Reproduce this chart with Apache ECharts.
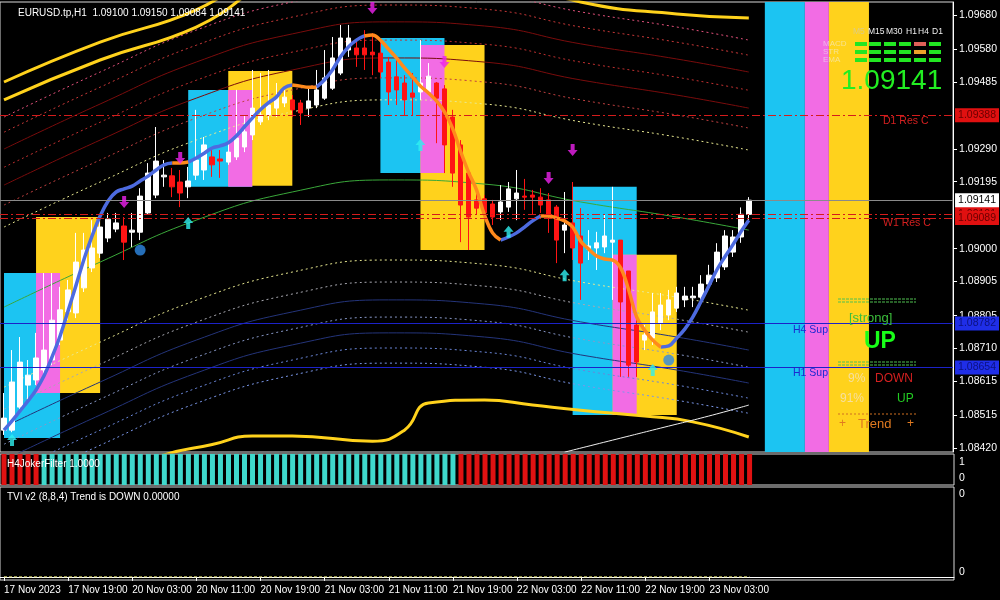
<!DOCTYPE html>
<html><head><meta charset="utf-8">
<script src="https://cdn.jsdelivr.net/npm/echarts@6/dist/echarts.min.js"></script>
<style>html,body{margin:0;padding:0;background:#000;}#c{width:1000px;height:600px;}</style>
</head><body><div id="c"></div>
<script>
// ---------- DATA ----------
const opens = [1.08472,1.08472,1.08539,1.08603,1.08618,1.08647,1.08676,1.08734,1.08816,1.08813,
1.08886,1.08944,1.08987,1.09031,1.09057,1.09066,1.09048,1.09048,1.09104,1.09156,
1.09209,1.09212,1.09194,1.09180,1.09214,1.09229,1.09267,1.09261,1.09252,1.09267,
1.09296,1.09331,1.09369,1.09389,1.09409,1.09424,1.09433,1.09424,1.09409,1.09418,
1.09438,1.09467,1.09511,1.09578,1.09584,1.09584,1.09572,1.09569,1.09543,1.09500,
1.09482,1.09453,1.09456,1.09456,1.09482,1.09465,1.09383,1.09302,1.09220,1.09142,
1.09145,1.09130,1.09107,1.09121,1.09145,1.09153,1.09156,1.09150,1.09142,1.09121,
1.09054,1.09075,1.09037,1.08999,1.09002,1.09005,1.09019,1.09025,1.08935,1.08778,
1.08734,1.08740,1.08784,1.08807,1.08827,1.08851,1.08857,1.08859,1.08897,1.08915,
1.08947,1.08990,1.09034,1.09100];
const closes = [1.08507,1.08612,1.08670,1.08632,1.08682,1.08705,1.08792,1.08822,1.08880,1.08961,
1.08996,1.09002,1.09063,1.09086,1.09075,1.09019,1.09054,1.09153,1.09220,1.09255,
1.09214,1.09180,1.09162,1.09197,1.09258,1.09302,1.09244,1.09255,1.09281,1.09322,
1.09340,1.09409,1.09389,1.09418,1.09441,1.09441,1.09404,1.09395,1.09430,1.09462,
1.09497,1.09555,1.09613,1.09613,1.09564,1.09564,1.09564,1.09514,1.09456,1.09462,
1.09433,1.09441,1.09482,1.09502,1.09438,1.09302,1.09220,1.09127,1.09092,1.09118,
1.09104,1.09092,1.09136,1.09174,1.09162,1.09150,1.09150,1.09127,1.09098,1.09025,
1.09069,1.09002,1.08958,1.09008,1.09017,1.09037,1.09025,1.08845,1.08661,1.08670,
1.08749,1.08816,1.08836,1.08851,1.08871,1.08862,1.08862,1.08897,1.08923,1.08990,
1.09037,1.09034,1.09100,1.09141];
const lows = [1.08458,1.08466,1.08530,1.08560,1.08603,1.08632,1.08661,1.08720,1.08792,1.08798,
1.08874,1.08932,1.08973,1.09019,1.09048,1.08967,1.09005,1.09025,1.09098,1.09147,
1.09180,1.09150,1.09121,1.09147,1.09200,1.09200,1.09209,1.09206,1.09244,1.09258,
1.09281,1.09316,1.09360,1.09374,1.09383,1.09412,1.09383,1.09360,1.09383,1.09409,
1.09433,1.09462,1.09505,1.09558,1.09529,1.09520,1.09505,1.09497,1.09418,1.09418,
1.09389,1.09389,1.09433,1.09447,1.09307,1.09220,1.09180,1.09019,1.08996,1.09098,
1.09083,1.09069,1.09083,1.09107,1.09083,1.09113,1.09098,1.09104,1.09046,1.08958,
1.08987,1.08967,1.08851,1.08967,1.08938,1.08987,1.08851,1.08627,1.08627,1.08627,
1.08705,1.08720,1.08763,1.08792,1.08816,1.08830,1.08830,1.08851,1.08886,1.08903,
1.08938,1.08976,1.09017,1.09084];
const highs = [1.08580,1.08705,1.08743,1.08676,1.08755,1.08929,1.08929,1.08889,1.08909,1.09046,
1.09046,1.09083,1.09089,1.09104,1.09104,1.09092,1.09104,1.09176,1.09249,1.09354,
1.09258,1.09235,1.09229,1.09238,1.09404,1.09325,1.09287,1.09287,1.09308,1.09462,
1.09389,1.09520,1.09511,1.09520,1.09482,1.09470,1.09447,1.09433,1.09467,1.09520,
1.09578,1.09616,1.09651,1.09651,1.09607,1.09636,1.09627,1.09607,1.09558,1.09549,
1.09505,1.09511,1.09607,1.09540,1.09485,1.09476,1.09404,1.09316,1.09229,1.09171,
1.09156,1.09142,1.09185,1.09194,1.09229,1.09203,1.09171,1.09176,1.09162,1.09127,
1.09165,1.09194,1.09118,1.09054,1.09049,1.09098,1.09180,1.09025,1.08935,1.08792,
1.08778,1.08871,1.08871,1.08880,1.08889,1.08889,1.08889,1.08923,1.08953,1.09016,
1.09054,1.09054,1.09120,1.09150];

// trend moving average (blue = rising, orange = falling)
const hmaValues = [1.08472,1.08499,1.08528,1.08557,1.08589,1.08630,1.08685,1.08746,1.08819,1.08894,
1.08970,1.09037,1.09095,1.09139,1.09165,1.09174,1.09182,1.09197,1.09211,1.09229,
1.09244,1.09249,1.09249,1.09252,1.09264,1.09278,1.09293,1.09299,1.09308,1.09328,
1.09354,1.09380,1.09404,1.09424,1.09441,1.09468,1.09476,1.09473,1.09470,1.09470,
1.09491,1.09520,1.09558,1.09587,1.09607,1.09619,1.09622,1.09607,1.09581,1.09555,
1.09526,1.09500,1.09473,1.09453,1.09430,1.09398,1.09351,1.09284,1.09223,1.09171,
1.09098,1.09046,1.09025,1.09034,1.09046,1.09063,1.09081,1.09095,1.09095,1.09089,
1.09081,1.09063,1.09022,1.08999,1.08979,1.08970,1.08967,1.08944,1.08880,1.08801,
1.08763,1.08734,1.08714,1.08717,1.08740,1.08766,1.08801,1.08845,1.08891,1.08938,
1.08976,1.09011,1.09049,1.09083];
const hmaDownRanges = [[21,23],[36,39],[45,62],[67,82]];

// envelope bands, read at anchor bars
const bandAnchors = [0,12,24,36,48,60,72,84,93];
const bandCenter = [1.08830,1.08961,1.09083,1.09165,1.09200,1.09188,1.09136,1.09092,1.09054];
const bandU1 = [1.09063,1.09194,1.09316,1.09398,1.09433,1.09421,1.09369,1.09325,1.09287];
const bandU2 = [1.09127,1.09258,1.09380,1.09462,1.09497,1.09485,1.09433,1.09389,1.09351];
const bandU3 = [1.09185,1.09316,1.09438,1.09520,1.09555,1.09543,1.09491,1.09447,1.09409];
const bandU4 = [1.09237,1.09368,1.09490,1.09572,1.09607,1.09595,1.09543,1.09499,1.09461];
const bandU5 = [1.09290,1.09421,1.09543,1.09625,1.09660,1.09648,1.09596,1.09552,1.09514];
const bandU6 = [1.09339,1.09470,1.09592,1.09674,1.09709,1.09697,1.09645,1.09601,1.09563];
const bandU7 = [1.09383,1.09514,1.09636,1.09718,1.09753,1.09741,1.09689,1.09645,1.09607];
const bandL1 = [1.08597,1.08728,1.08850,1.08932,1.08967,1.08955,1.08903,1.08859,1.08821];
const bandL2 = [1.08533,1.08664,1.08786,1.08868,1.08903,1.08891,1.08839,1.08795,1.08757];
const bandL3 = [1.08481,1.08612,1.08734,1.08816,1.08851,1.08839,1.08787,1.08743,1.08705];
const bandL4 = [1.08431,1.08562,1.08684,1.08766,1.08801,1.08789,1.08737,1.08693,1.08655];
const bandL5 = [1.08385,1.08516,1.08638,1.08720,1.08755,1.08743,1.08691,1.08647,1.08609];
const bandL6 = [1.08341,1.08472,1.08594,1.08676,1.08711,1.08699,1.08647,1.08603,1.08565];
const bandL7 = [1.08297,1.08428,1.08550,1.08632,1.08667,1.08655,1.08603,1.08559,1.08521];
const topYellow1 = [1.09433,1.09549,1.09645,1.09800,1.09830,1.09800,1.09718,1.09683,1.09671];
const topYellow2 = [1.09485,1.09601,1.09695,1.09850,1.09880,1.09850,1.09770,1.09740,1.09730];
const bottomYellowAnchors = [0,12,20,26,31,36,46,50,53,60,66,72,80,86,93];
const bottomYellow = [1.08250,1.08330,1.08400,1.08430,1.08455,1.08455,1.08440,1.08472,1.08551,1.08560,1.08545,1.08530,1.08513,1.08496,1.08452];
const whiteLineAnchors = [70,76,82,88,93];
const whiteLine = [1.08408,1.08443,1.08478,1.08513,1.08545];

// zones: [startBar, endBar, topPrice, bottomPrice]
const zoneCyan = [[0,7,1.08929,1.08449],[23,31,1.09462,1.09180],[47,55,1.09613,1.09220],[71,79,1.09180,1.08516]];
const zoneYellow = [[4,12,1.09092,1.08580],[28,36,1.09517,1.09183],[52,60,1.09593,1.08996],[76,84,1.08982,1.08516]];
const zonePink = [[4,7,1.08929,1.08580],[28,31,1.09462,1.09180],[52,55,1.09593,1.09220],[76,79,1.08982,1.08516]];
const stripeCyan = [95,100], stripePink = [100,103], stripeYellow = [103,108];

// levels
const levelD1Res = 1.09388, levelW1ResA = 1.09101, levelW1ResB = 1.09089;
const levelCurrent = 1.09141, levelH4Sup = 1.08782, levelH1Sup = 1.08654;

// signals [bar, price]
const arrowsDown = [[15,1.09136],[22,1.09264],[46,1.09700],[55,1.09543],[68,1.09206],[71,1.09287]];
const arrowsUp = [[1,1.08443],[23,1.09075],[52,1.09302],[63,1.09049],[70,1.08923],[81,1.08647]];
const dots = [[17,1.08996],[83,1.08676]];

// sub-indicators
const jokerRuns = [[0,4,'down'],[5,56,'up'],[57,93,'down']];
const tviValue = 0.0;
const yTickValues = [1.09680,1.09580,1.09485,1.09290,1.09195,1.09000,1.08905,1.08805,1.08710,1.08615,1.08515,1.08420];
const tfHeaders = ['M5','M15','M30','H1','H4','D1'];
const tfRows = ['MACD','STR','EMA'];
const tfStatus = [['g','g','g','g','r','g'],['g','g','g','g','o','g'],['g','g','g','g','g','g']];

// ---------- BUILD ----------
const N_BARS = opens.length, N_CAT = 119;
const MON = 'Nov';
const categories = [];
(function(){ let d = 17, h = 11;
  for (let i = 0; i < N_CAT; i++) {
    categories.push(i === 0 ? '17 Nov 2023' : d + ' ' + MON + ' ' + String(h).padStart(2,'0') + ':00');
    h++; if (h === 24) { h = 0; d = (d === 17) ? 20 : d + 1; }
  }
})();
const candleData = opens.map((o,i)=>[o, closes[i], lows[i], highs[i]]);
const inRange = (i, strict) => hmaDownRanges.some(([a,b]) => strict ? (i > a && i < b) : (i >= a && i <= b));
const hmaBlue = hmaValues.map((v,i)=> inRange(i,true) ? null : v);
const hmaOrange = hmaValues.map((v,i)=> inRange(i,false) ? v : null);
const jokerData = [];
jokerRuns.forEach(([a,b,t])=>{ for (let i=a;i<=b;i++) jokerData.push({value:1, itemStyle:{color: t==='up' ? '#3fd8cc' : '#e01212'}}); });
const tviData = closes.map(()=>tviValue);

const FF = '"Liberation Sans", Arial, sans-serif';
const FN = '"Liberation Sans Narrow", "Liberation Sans", sans-serif';
const YMIN = 1.084084, YMAX = 1.097178;

function band(name, anchors, vals, color, type, width) {
  return { name, type:'line', xAxisIndex:0, yAxisIndex:0, data: anchors.map((a,k)=>[a, vals[k]]),
    smooth: true, showSymbol:false, silent:true, z:2, animation:false,
    lineStyle:{color, type, width} };
}
function zoneItems(list, color) {
  return list.map(([a,b,t,btm]) => [{xAxis:a, yAxis:t, itemStyle:{color, opacity:1}}, {xAxis:b, yAxis:btm}]);
}
function stripe(r, color) { return [{xAxis:r[0], itemStyle:{color, opacity:1}}, {xAxis:r[1]}]; }
function level(v, color, type, boxBg, boxFg) {
  return { yAxis: v, lineStyle:{color, type, width:1},
    label:{ show:true, position:'end', distance:2, formatter: v.toFixed(5), color: boxFg,
      backgroundColor: boxBg, padding:[2,3,1,3], fontSize:10.5, fontFamily:FF } };
}
const upPath = 'path://M5,0 L10,6 L7,6 L7,12 L3,12 L3,6 L0,6 Z';
const downPath = 'path://M3,0 L7,0 L7,6 L10,6 L5,12 L0,6 L3,6 Z';

function T(x, y, text, fill, size, extra) {
  return { type:'text', x, y, z:100, silent:true,
    style: Object.assign({ text, fill, fontSize:size, fontFamily:FF, verticalAlign:'middle' }, extra || {}) };
}
const graphics = [
  T(18, 13, 'EURUSD.tp,H1  ' + [opens[N_BARS-1], highs[N_BARS-1], lows[N_BARS-1], closes[N_BARS-1]].map(v=>v.toFixed(5)).join(' '), '#ffffff', 10),
  T(883, 121, 'D1 Res C', '#d42020', 10.5),
  T(883, 223, 'W1 Res C', '#d42020', 10.5),
  T(793, 330, 'H4 Sup', '#1c2ad0', 10.5),
  T(793, 373, 'H1 Sup', '#1c2ad0', 10.5),
  T(841, 81, closes[N_BARS-1].toFixed(5), '#22ee22', 28),
  T(849, 318, '[strong]', '#3cbf3c', 13),
  T(864, 342, 'UP', '#18ff18', 23, {fontWeight:'bold', fontFamily:FN}),
  T(848, 379, '9%', '#f6dfa0', 12),
  T(875, 379, 'DOWN', '#d42020', 12),
  T(840, 399, '91%', '#f6dfa0', 12),
  T(897, 399, 'UP', '#22cc22', 12),
  T(839, 424, '+', '#e07a20', 12),
  T(858, 424, 'Trend', '#e07a20', 13),
  T(907, 424, '+', '#e07a20', 12),
  T(7, 464, 'H4JokerFilter 1.0000', '#ffffff', 10),
  T(7, 497, 'TVI v2 (8,8,4) Trend is DOWN 0.00000', '#ffffff', 10),
  T(959, 462, '1', '#ffffff', 10.5),
  T(959, 478, '0', '#ffffff', 10.5),
  T(959, 494, '0', '#ffffff', 10.5),
  T(959, 572, '0', '#ffffff', 10.5)
];
[[299,'#50c050',[3,1]],[302,'#50c050',[3,1]],[362,'#50c050',[3,1]],[365,'#50c050',[3,1]],[414,'#d07020',[2,2]]].forEach(([y,c,d])=>{
  graphics.push({type:'line', z:100, silent:true, shape:{x1:838,y1:y,x2:916,y2:y}, style:{stroke:c, lineWidth:1, lineDash:d}});
});
const tfX = [855,869,884,899,914,929], tfY = [42,50,58];
const tfHeadX = [853,868,886,906,918,932];
const tfColor = {g:'#22e622', r:'#e06058', o:'#eaa22a'};
tfHeaders.forEach((h,k)=> graphics.push(T(tfHeadX[k], 32, h, k===0 ? 'rgba(200,200,200,0.6)' : '#eeeeee', 8.5)));
tfRows.forEach((r,k)=> graphics.push(T(823, tfY[k]+2, r, 'rgba(240,240,240,0.55)', 8)));
tfStatus.forEach((row,r)=> row.forEach((s,c)=> graphics.push({type:'rect', z:100, silent:true,
  shape:{x:tfX[c], y:tfY[r], width:12, height:4}, style:{fill: tfColor[s]}})));

const labelInterval = (idx) => idx % 8 === 0 && idx <= 88;

const option = {
  backgroundColor:'#000000',
  animation:false,
  grid:[
    {left:0, top:2, width:954, height:450, show:true, borderColor:'#d8d8d8', borderWidth:1, backgroundColor:'transparent'},
    {left:0, top:454, width:954, height:31, show:true, borderColor:'#d8d8d8', borderWidth:1},
    {left:0, top:487, width:954, height:93, show:true, borderColor:'#d8d8d8', borderWidth:1}
  ],
  xAxis:[
    {type:'category', gridIndex:0, data:categories, show:false},
    {type:'category', gridIndex:1, data:categories, show:false},
    {type:'category', gridIndex:2, data:categories, position:'bottom',
      axisLine:{show:true, lineStyle:{color:'#ffffff'}},
      axisTick:{show:true, interval:labelInterval, alignWithLabel:true, length:4, lineStyle:{color:'#ffffff'}},
      axisLabel:{interval:labelInterval, align:'left', color:'#ffffff', fontSize:10, fontFamily:FF, margin:5}}
  ],
  yAxis:[
    {type:'value', gridIndex:0, position:'right', min:YMIN, max:YMAX, scale:true,
      axisLine:{show:true, lineStyle:{color:'#ffffff'}},
      axisTick:{show:true, customValues:yTickValues, length:4, lineStyle:{color:'#ffffff'}},
      axisLabel:{customValues:yTickValues, color:'#ffffff', fontSize:10.5, fontFamily:FF, margin:6, formatter:(v)=>v.toFixed(5)},
      splitLine:{show:false}},
    {type:'value', gridIndex:1, min:0, max:1, show:false},
    {type:'value', gridIndex:2, min:-0.035, max:1, show:false}
  ],
  graphic: graphics,
  series:[
    { name:'zones', type:'line', xAxisIndex:0, yAxisIndex:0, data:[], z:1, silent:true,
      markArea:{ silent:true, data: [].concat(
        zoneItems(zoneCyan,'#1cc4f2'), zoneItems(zoneYellow,'#ffd21c'), zoneItems(zonePink,'#f26ce4'),
        [stripe(stripeCyan,'#1cc4f2'), stripe(stripePink,'#f26ce4'), stripe(stripeYellow,'#ffd21c')]) } },
    band('U7', bandAnchors, bandU7, '#e0507a', [2,3], 1),
    band('U6', bandAnchors, bandU6, '#c83838', [2,3], 1),
    band('U5', bandAnchors, bandU5, '#7a0c0c', 'solid', 1),
    band('U4', bandAnchors, bandU4, '#c03030', [2,3], 1),
    band('U3', bandAnchors, bandU3, '#7a0c0c', 'solid', 1),
    band('U2', bandAnchors, bandU2, '#c04040', [2,3], 1),
    band('U1', bandAnchors, bandU1, '#e8e890', [2,3], 1),
    band('L1', bandAnchors, bandL1, '#e8e890', [2,3], 1),
    band('L2', bandAnchors, bandL2, '#a8a8b0', [2,3], 1),
    band('L3', bandAnchors, bandL3, '#24347a', 'solid', 1),
    band('L4', bandAnchors, bandL4, '#8898c8', [2,3], 1),
    band('L5', bandAnchors, bandL5, '#24347a', 'solid', 1),
    band('L6', bandAnchors, bandL6, '#6a86d8', [2,3], 1),
    band('L7', bandAnchors, bandL7, '#7a96e8', [2,3], 1),
    band('topY1', bandAnchors, topYellow1, '#ffd21c', 'solid', 3),
    band('topY2', bandAnchors, topYellow2, '#ffd21c', 'solid', 3),
    band('botY', bottomYellowAnchors, bottomYellow, '#ffd21c', 'solid', 3),
    band('white', whiteLineAnchors, whiteLine, '#f0f0f0', 'solid', 1),
    band('center', bandAnchors, bandCenter, '#3aa83a', 'solid', 1),
    { name:'levels', type:'line', xAxisIndex:0, yAxisIndex:0, data: closes, showSymbol:false, silent:true, z:5,
      lineStyle:{opacity:0},
      markLine:{ symbol:'none', silent:true, animation:false, precision:5, data:[
        level(levelD1Res,'#d41c1c',[8,3,2,3],'#e01010','#6a0000'),
        level(levelW1ResA,'#d41c1c',[8,3,2,3],'#e01010','#6a0000'),
        level(levelW1ResB,'#d41c1c',[8,3,2,3],'#e01010','#6a0000'),
        level(levelCurrent,'#8a8a8a','solid','#ffffff','#000000'),
        level(levelH4Sup,'#1c22c8','solid','#1f2ee8','#0c1280'),
        level(levelH1Sup,'#1c22c8','solid','#1f2ee8','#0c1280')
      ]}},
    { name:'price', type:'candlestick', xAxisIndex:0, yAxisIndex:0, data:candleData, barWidth:5, z:3, silent:true,
      itemStyle:{color:'#ffffff', color0:'#ff1414', borderColor:'#ffffff', borderColor0:'#ff1414', borderWidth:1} },
    { name:'trendUp', type:'line', xAxisIndex:0, yAxisIndex:0, data:hmaBlue, smooth:0.4, showSymbol:false, z:4, silent:true,
      lineStyle:{color:'#4d6be0', width:3.5} },
    { name:'trendDown', type:'line', xAxisIndex:0, yAxisIndex:0, data:hmaOrange, smooth:0.4, showSymbol:false, z:4, silent:true,
      lineStyle:{color:'#ff8a1c', width:3.5} },
    { name:'sellArrows', type:'scatter', xAxisIndex:0, yAxisIndex:0, data:arrowsDown, symbol:downPath, symbolSize:[10,12], z:6, silent:true,
      itemStyle:{color:'#ee22ee'} },
    { name:'buyArrows', type:'scatter', xAxisIndex:0, yAxisIndex:0, data:arrowsUp, symbol:upPath, symbolSize:[10,12], z:6, silent:true,
      itemStyle:{color:'#30f0f0'} },
    { name:'dots', type:'scatter', xAxisIndex:0, yAxisIndex:0, data:dots, symbol:'circle', symbolSize:11, z:6, silent:true,
      itemStyle:{color:'#2e8ae6'} },
    { name:'H4JokerFilter', type:'bar', xAxisIndex:1, yAxisIndex:1, data:jokerData, barWidth:5, silent:true },
    { name:'TVI', type:'line', xAxisIndex:2, yAxisIndex:2, data:tviData, showSymbol:false, silent:true,
      lineStyle:{color:'#e0e070', type:[3,2], width:1} }
  ]
};
const chart = echarts.init(document.getElementById('c'), null, {renderer:'canvas'});
chart.setOption(option);
</script>
</body></html>
